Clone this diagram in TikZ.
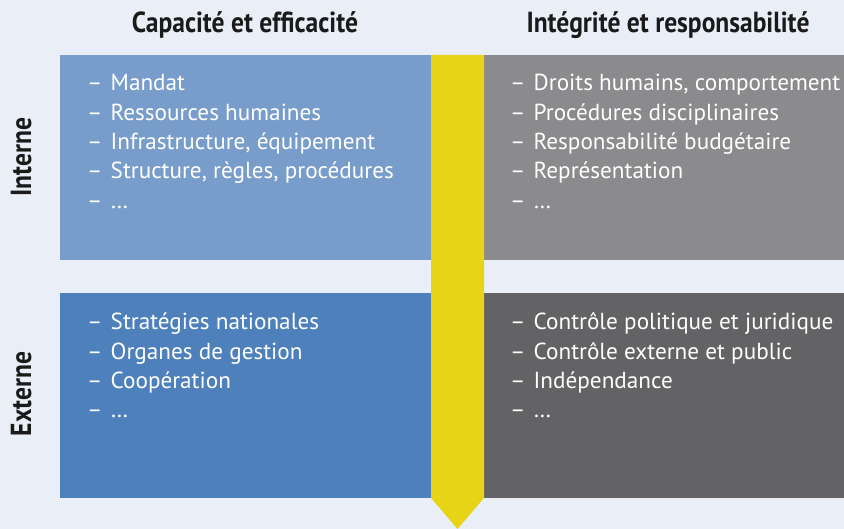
\documentclass[tikz,border=0pt]{standalone}
\usepackage{fontspec}
\setmainfont{PT Sans}
\newfontfamily\headfont{PT Sans}[FakeStretch=0.88]
\definecolor{bgc}{HTML}{E9EEF7}
\definecolor{tlc}{HTML}{799DCB}
\definecolor{blc}{HTML}{4E81BC}
\definecolor{trc}{HTML}{8B8B8E}
\definecolor{brc}{HTML}{636365}
\definecolor{yel}{HTML}{E8D417}
\definecolor{headc}{HTML}{1A1A1A}
\begin{document}
\begin{tikzpicture}[x=1pt,y=1pt,
  box/.style={draw=none,inner sep=0pt,anchor=south west},
  head/.style={font=\headfont\bfseries\fontsize{29}{32}\selectfont,text=headc,inner sep=0pt,anchor=base},
  item/.style={font=\fontsize{23.2}{29.3}\selectfont,text=white,inner sep=0pt,anchor=base west},
  dashmark/.style={font=\fontsize{23.2}{29.3}\selectfont,text=white,inner sep=0pt,anchor=base west}]
\fill[bgc] (0,0) rectangle (844,529);
\useasboundingbox (0,0) rectangle (844,529);
% boxes
\node[box,fill=tlc,minimum width=371pt,minimum height=205pt] (tl) at (60,269) {};
\node[box,fill=blc,minimum width=371pt,minimum height=205pt] (bl) at (60,31) {};
\node[box,fill=trc,minimum width=360pt,minimum height=205pt] (tr) at (484,269) {};
\node[box,fill=brc,minimum width=360pt,minimum height=205pt] (br) at (484,31) {};
% arrow
\fill[yel] (431,474) -- (484,474) -- (484,31) -- (457.5,0) -- (431,31) -- cycle;
% headers
\node[head] (h1) at (245,496) {Capacité et efficacité};
\node[head] (h2) at (668,496) {Intégrité et responsabilité};
\node[head,rotate=90] (s1) at (31,372) {Interne};
\node[head,rotate=90] (s2) at (31,135) {Externe};
% items
\foreach \t [count=\i] in {Mandat,Ressources humaines,{Infrastructure, équipement},{Structure, règles, procédures},\dots}{
  \node[dashmark] (tld\i) at (87,{438-29.3*(\i-1)}) {–};
  \node[item] (tli\i) at (110.5,{438-29.3*(\i-1)}) {\t};
}
\foreach \t [count=\i] in {{Droits humains, comportement},Procédures disciplinaires,Responsabilité budgétaire,Représentation,\dots}{
  \node[dashmark] (trd\i) at (510,{438-29.3*(\i-1)}) {–};
  \node[item] (tri\i) at (533.5,{438-29.3*(\i-1)}) {\t};
}
\foreach \t [count=\i] in {Stratégies nationales,Organes de gestion,Coopération,\dots}{
  \node[dashmark] (bld\i) at (87,{199-29.3*(\i-1)}) {–};
  \node[item] (bli\i) at (110.5,{199-29.3*(\i-1)}) {\t};
}
\foreach \t [count=\i] in {Contrôle politique et juridique,Contrôle externe et public,Indépendance,\dots}{
  \node[dashmark] (brd\i) at (510,{199-29.3*(\i-1)}) {–};
  \node[item] (bri\i) at (533.5,{199-29.3*(\i-1)}) {\t};
}
\end{tikzpicture}
\end{document}
